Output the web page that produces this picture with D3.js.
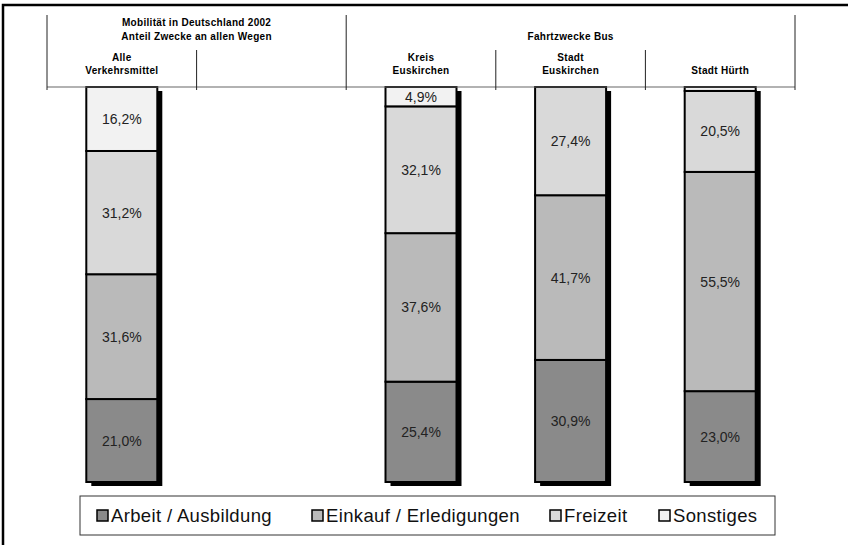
<!DOCTYPE html>
<html><head><meta charset="utf-8">
<script src="https://cdn.jsdelivr.net/npm/d3@7"></script>
<style>body{margin:0;background:#fff}svg{display:block}</style>
</head><body>
<script>
const categories = ["Alle|Verkehrsmittel", "", "Kreis|Euskirchen", "Stadt|Euskirchen", "Stadt Hürth"];
const seriesNames = ["Arbeit / Ausbildung", "Einkauf / Erledigungen", "Freizeit", "Sonstiges"];
const arbeit   = [21.0, null, 25.4, 30.9, 23.0];
const einkauf  = [31.6, null, 37.6, 41.7, 55.5];
const freizeit = [31.2, null, 32.1, 27.4, 20.5];
const sonstiges= [16.2, null, 4.9, 0.0, 1.0];
const groups = [
  {label: ["Mobilität in Deutschland 2002", "Anteil Zwecke an allen Wegen"], from: 0, to: 1},
  {label: ["Fahrtzwecke Bus"], from: 2, to: 4}
];
const colors = ["#8a8a8a", "#bababa", "#d9d9d9", "#f2f2f2"];

const W = 848, H = 545;
const svg = d3.select("body").append("svg").attr("width", W).attr("height", H);

// outer frame
svg.append("rect").attr("x", 3).attr("y", 5).attr("width", W + 10).attr("height", H + 10)
  .attr("fill", "none").attr("stroke", "#000").attr("stroke-width", 2.5);

const x = d3.scaleBand().domain(d3.range(categories.length)).range([47, 795]).padding(0);
const y = d3.scaleLinear().domain([0, 100]).range([482, 87]);
const barW = 71;

const series = [arbeit, einkauf, freizeit, sonstiges];
const font = "'Liberation Sans', Arial, Helvetica, sans-serif";

// bars
categories.forEach((c, i) => {
  if (arbeit[i] == null) return;
  const cx = x(i) + x.bandwidth() / 2;
  const x0 = cx - barW / 2;
  const total = series.reduce((s, a) => s + a[i], 0);
  svg.append("rect").attr("x", x0 + 5).attr("y", y(total) + 4)
    .attr("width", barW).attr("height", y(0) - y(total))
    .attr("fill", "#000");
  let cum = 0;
  series.forEach((arr, k) => {
    const v = arr[i];
    const y1 = y(cum + v), y0 = y(cum);
    svg.append("rect").attr("x", x0).attr("y", y1).attr("width", barW)
      .attr("height", Math.max(0, y0 - y1)).attr("fill", colors[k])
      .attr("stroke", "#000").attr("stroke-width", 2);
    if (v >= 3) {
      svg.append("text").attr("x", cx).attr("y", (y0 + y1) / 2 + 5)
        .attr("text-anchor", "middle").attr("font-family", font).attr("font-size", 14)
        .attr("fill", "#222").text(v.toFixed(1).replace(".", ",") + "%");
    }
    cum += v;
  });
});

// top axis line
const axisY = 87;
svg.append("line").attr("x1", 47).attr("x2", 795).attr("y1", axisY).attr("y2", axisY)
  .attr("stroke", "#666").attr("stroke-width", 1.2);

// category separators
const bounds = d3.range(categories.length + 1).map(i => i < categories.length ? x(i) : x.range()[1]);
bounds.forEach((bx, i) => {
  const isGroup = groups.some(g => x(g.from) === bx) || i === categories.length;
  svg.append("line").attr("x1", bx).attr("x2", bx)
    .attr("y1", isGroup ? 15 : 50).attr("y2", 90)
    .attr("stroke", "#222").attr("stroke-width", 1);
});

// category labels
categories.forEach((c, i) => {
  if (!c) return;
  const lines = c.split("|");
  const cx = x(i) + x.bandwidth() / 2;
  const t = svg.append("text").attr("x", cx).attr("text-anchor", "middle")
    .attr("font-family", font).attr("font-size", 10).attr("font-weight", "bold")
    .attr("letter-spacing", 0.3);
  lines.forEach((l, j) => {
    t.append("tspan").attr("x", cx).attr("y", 74 - (lines.length - 1 - j) * 13).text(l);
  });
});

// group labels
groups.forEach(g => {
  const cx = (x(g.from) + x(g.to) + x.bandwidth()) / 2;
  const t = svg.append("text").attr("text-anchor", "middle")
    .attr("font-family", font).attr("font-size", 10).attr("font-weight", "bold")
    .attr("letter-spacing", 0.3);
  g.label.forEach((l, j) => {
    t.append("tspan").attr("x", cx).attr("y", 40 - (g.label.length - 1 - j) * 14).text(l);
  });
});

// legend
svg.append("rect").attr("x", 80).attr("y", 496).attr("width", 695).attr("height", 39)
  .attr("fill", "#fff").attr("stroke", "#333").attr("stroke-width", 1);
const legX = [97, 312, 550, 659];
seriesNames.forEach((n, k) => {
  svg.append("rect").attr("x", legX[k]).attr("y", 510).attr("width", 11).attr("height", 11)
    .attr("fill", colors[k]).attr("stroke", "#000").attr("stroke-width", 1.5);
  svg.append("text").attr("x", legX[k] + 14).attr("y", 522)
    .attr("font-family", font).attr("font-size", 18.5).attr("letter-spacing", 0.35)
    .attr("fill", "#111").text(n);
});
</script>
</body></html>
